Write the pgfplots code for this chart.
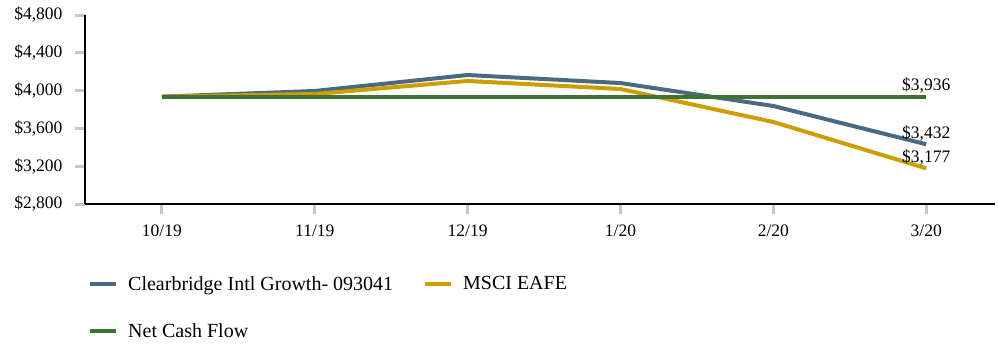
\documentclass[border=0pt]{standalone}
\usepackage{fontspec}
\setmainfont{Liberation Serif}
\usepackage{pgfplots}
\pgfplotsset{compat=1.18}

\definecolor{cbBlue}{HTML}{4B6A82}
\definecolor{eafeGold}{HTML}{CC9E00}
\definecolor{cashGreen}{HTML}{3F7331}
\definecolor{tickGray}{HTML}{C4C7CA}

\begin{document}
\begin{tikzpicture}
\useasboundingbox (0,0) rectangle (998pt,-343pt);
\begin{axis}[
    at={(85pt,-15pt)}, anchor=north west,
    scale only axis,
    width=910pt, height=189pt,
    font=\fontsize{17.5}{20}\selectfont,
    xmin=-0.503, xmax=5.45,
    ymin=2800, ymax=4800,
    xtick={0,...,5},
    xticklabels={10/19,11/19,12/19,1/20,2/20,3/20},
    ytick={2800,3200,3600,4000,4400,4800},
    yticklabels={{\$2,800},{\$3,200},{\$3,600},{\$4,000},{\$4,400},{\$4,800}},
    axis x line*=bottom, axis y line*=left,
    axis line style={-, black, line width=1.5pt},
    tick align=outside,
    major tick length=10pt,
    tick style={tickGray, line width=3pt},
    yticklabel style={xshift=-9pt},
    xticklabel style={yshift=-7pt},
    legend columns=2,
    legend cell align=left,
    legend style={draw=none, fill=none, at={(0,-0.36)}, anchor=north west,
        font=\fontsize{20}{23}\selectfont,
        /tikz/every even column/.append style={column sep=28pt},
        row sep=28pt},
    legend image code/.code={\draw[#1, line width=4pt] (0pt,0pt) -- (26pt,0pt);
        \path (34pt,0pt);},
]
\addplot[cbBlue, line width=4pt] coordinates {
    (0,3936) (1,3996) (2,4165) (3,4080) (4,3837) (5,3432)
};
\addlegendentry{Clearbridge Intl Growth- 093041}
\addplot[eafeGold, line width=4pt] coordinates {
    (0,3936) (1,3964) (2,4102) (3,4017) (4,3668) (5,3177)
};
\addlegendentry{MSCI EAFE}
\addplot[cashGreen, line width=4pt] coordinates {
    (0,3936) (1,3936) (2,3936) (3,3936) (4,3936) (5,3936)
};
\addlegendentry{Net Cash Flow}
\node[above, inner sep=3pt] at (axis cs:5,3936) {\$3,936};
\node[above, inner sep=3pt] at (axis cs:5,3432) {\$3,432};
\node[above, inner sep=3pt] at (axis cs:5,3177) {\$3,177};
\end{axis}
\end{tikzpicture}
\end{document}
